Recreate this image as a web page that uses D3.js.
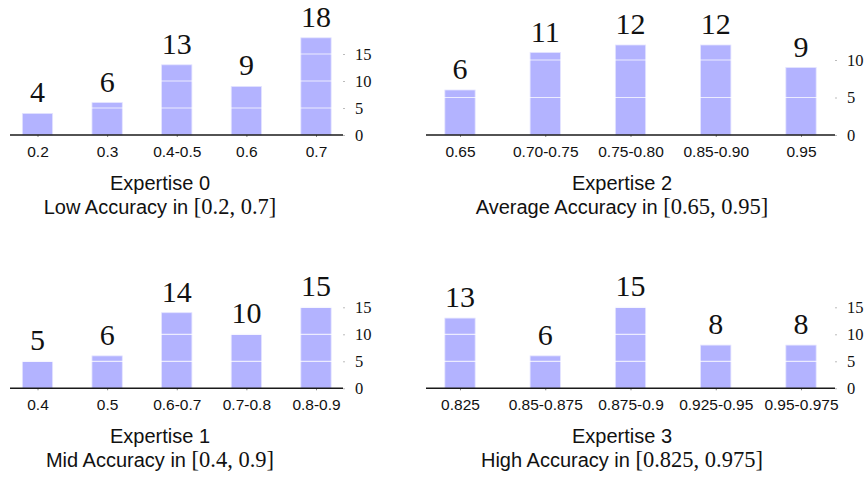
<!DOCTYPE html>
<html>
<head>
<meta charset="utf-8">
<script src="https://cdn.jsdelivr.net/npm/d3@7"></script>
<style>
  html, body { margin: 0; padding: 0; background: #fff; }
  svg { display: block; }
</style>
</head>
<body>
<svg id="chart" width="865" height="479"></svg>
<script>
// ---- data ----
const categories0 = ["0.2", "0.3", "0.4-0.5", "0.6", "0.7"];
const values0 = [4, 6, 13, 9, 18];
const categories1 = ["0.4", "0.5", "0.6-0.7", "0.7-0.8", "0.8-0.9"];
const values1 = [5, 6, 14, 10, 15];
const categories2 = ["0.65", "0.70-0.75", "0.75-0.80", "0.85-0.90", "0.95"];
const values2 = [6, 11, 12, 12, 9];
const categories3 = ["0.825", "0.85-0.875", "0.875-0.9", "0.925-0.95", "0.95-0.975"];
const values3 = [13, 6, 15, 8, 8];

const titles = ["Expertise 0", "Expertise 2", "Expertise 1", "Expertise 3"];
const subtitles = ["Low Accuracy in ", "Average Accuracy in ", "Mid Accuracy in ", "High Accuracy in "];
const ranges = ["[0.2, 0.7]", "[0.65, 0.95]", "[0.4, 0.9]", "[0.825, 0.975]"];
const yTicks0 = [0, 5, 10, 15];
const yTicks2 = [0, 5, 10];
const yMaxes = [20, 14.4, 20, 20];

// ---- layout ----
const panels = [
  {cats: categories0, vals: values0, ticks: yTicks0, col: 0, row: 0},
  {cats: categories2, vals: values2, ticks: yTicks2, col: 1, row: 0},
  {cats: categories1, vals: values1, ticks: yTicks0, col: 0, row: 1},
  {cats: categories3, vals: values3, ticks: yTicks0, col: 1, row: 1}
];
const cols = [
  {ax0: 10, ax1: 343, c0: 37.5, c1: 316, tc: 160},
  {ax0: 426, ax1: 835, c0: 460, c1: 801, tc: 622}
];
const rows = [135, 388.3];
const H = 108;
const barW = 30.3;
const SANS = "'Liberation Sans', Arial, Helvetica, sans-serif";
const SERIF = "'Liberation Serif', 'Times New Roman', serif";

const svg = d3.select("#chart");

panels.forEach((p, i) => {
  const c = cols[p.col];
  const base = rows[p.row];
  const g = svg.append("g");

  const x = d3.scalePoint().domain(p.cats).range([c.c0, c.c1]);
  const y = d3.scaleLinear().domain([0, yMaxes[i]]).range([base, base - H]);

  // bars
  g.selectAll("rect.bar").data(p.vals).join("rect")
    .attr("class", "bar")
    .attr("x", (d, j) => x(p.cats[j]) - barW / 2)
    .attr("y", d => y(d))
    .attr("width", barW)
    .attr("height", d => y(0) - y(d))
    .attr("fill", "#b3b3ff")
    .attr("stroke", "#e4e4ff")
    .attr("stroke-width", 0.8);

  // white grid lines over bars
  g.selectAll("line.grid").data(p.ticks.filter(t => t > 0)).join("line")
    .attr("class", "grid")
    .attr("x1", c.ax0).attr("x2", c.ax1)
    .attr("y1", d => y(d)).attr("y2", d => y(d))
    .attr("stroke", "#ffffff").attr("stroke-opacity", 0.75)
    .attr("stroke-width", 1.2);

  // value labels
  g.selectAll("text.val").data(p.vals).join("text")
    .attr("class", "val")
    .attr("x", (d, j) => x(p.cats[j]))
    .attr("y", d => y(d) - 11)
    .attr("text-anchor", "middle")
    .attr("font-family", SERIF)
    .attr("font-size", 30)
    .attr("fill", "#111")
    .text(d => d);

  // x axis
  const xAxis = g.append("g")
    .attr("transform", `translate(0,${base})`)
    .call(d3.axisBottom(x).tickSize(2).tickPadding(9));
  xAxis.select(".domain").remove();
  xAxis.selectAll(".tick line").attr("stroke", "#888");
  xAxis.selectAll(".tick text")
    .attr("font-family", SANS).attr("font-size", 15.5).attr("fill", "#111");
  g.append("line")
    .attr("x1", c.ax0).attr("x2", c.ax1)
    .attr("y1", base).attr("y2", base)
    .attr("stroke", "#1a1a1a").attr("stroke-width", 1.5);

  // y axis on right
  const yAxis = g.append("g")
    .attr("transform", `translate(${c.ax1},0)`)
    .call(d3.axisRight(y).tickValues(p.ticks).tickSize(2).tickPadding(10));
  yAxis.select(".domain").remove();
  yAxis.selectAll(".tick line").attr("stroke", "#bbb");
  yAxis.selectAll(".tick text")
    .attr("font-family", SERIF).attr("font-size", 16.5).attr("fill", "#111");

  // titles
  g.append("text")
    .attr("x", c.tc).attr("y", base + 55)
    .attr("text-anchor", "middle")
    .attr("font-family", SANS).attr("font-size", 20).attr("fill", "#111")
    .text(titles[i]);
  const t2 = g.append("text")
    .attr("x", c.tc).attr("y", base + 78.5)
    .attr("text-anchor", "middle")
    .attr("fill", "#111");
  t2.append("tspan").attr("font-family", SANS).attr("font-size", 20).text(subtitles[i]);
  t2.append("tspan").attr("font-family", SERIF).attr("font-size", 22.5).text(ranges[i]);
});
</script>
</body>
</html>
